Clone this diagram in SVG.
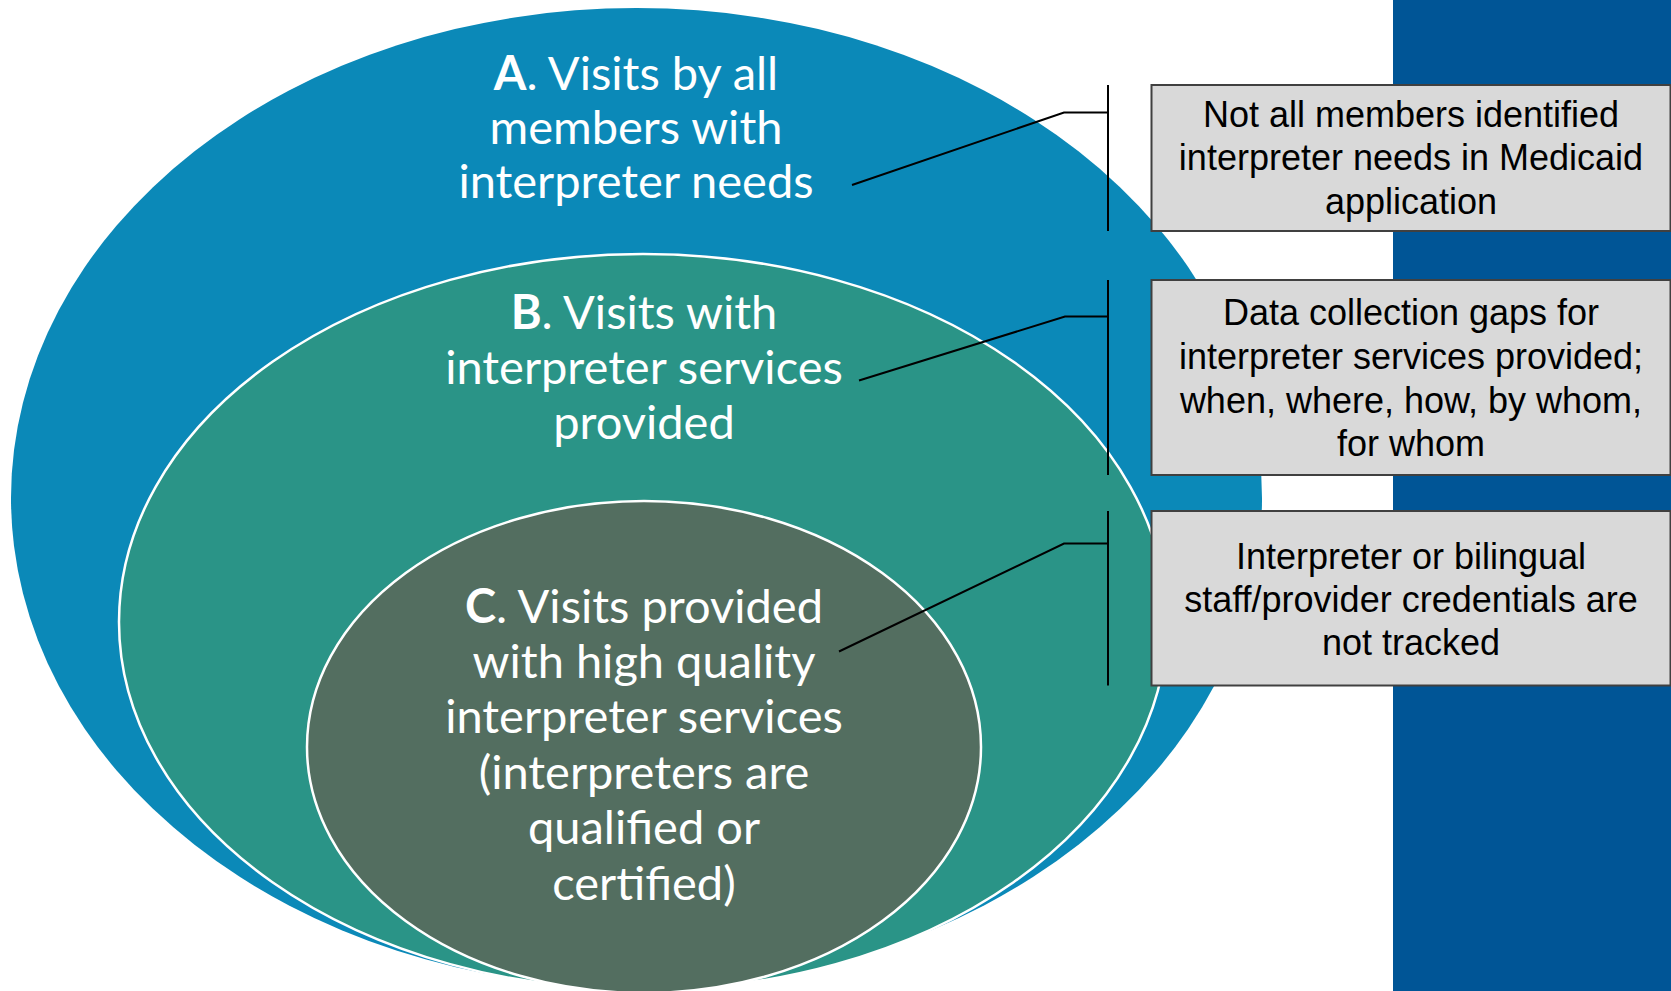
<svg xmlns="http://www.w3.org/2000/svg" width="1671" height="991" viewBox="0 0 1671 991">
<style>
.lbl{font-family:Lato,"Open Sans","Noto Sans",sans-serif;font-size:47px;fill:#ffffff;text-anchor:middle}
.box{fill:#D9D9D9;stroke:#404040;stroke-width:2}
.bt{font-family:"Liberation Sans",Arial,sans-serif;font-size:36px;fill:#000000;text-anchor:middle}
.con{fill:none;stroke:#000000;stroke-width:2}
</style>
<rect x="0" y="0" width="1671" height="991" fill="#ffffff"/>
<rect id="band" x="1393" y="0" width="278" height="991" fill="#005596"/>
<g id="nodeA">
<ellipse cx="636.5" cy="498" rx="625.5" ry="490" fill="#0B89B8"/>
<text class="lbl" x="636" y="90"><tspan font-weight="bold">A</tspan>. Visits by all</text>
<text class="lbl" x="636" y="144">members with</text>
<text class="lbl" x="636" y="198">interpreter needs</text>
</g>
<g id="nodeB">
<ellipse cx="643" cy="622" rx="524" ry="368" fill="#2A9487" stroke="#ffffff" stroke-width="2.5"/>
<text class="lbl" x="644" y="329"><tspan font-weight="bold">B</tspan>. Visits with</text>
<text class="lbl" x="644" y="384">interpreter services</text>
<text class="lbl" x="644" y="439">provided</text>
</g>
<g id="nodeC">
<ellipse cx="644" cy="747" rx="337" ry="246" fill="#536E60" stroke="#ffffff" stroke-width="2.5"/>
<text class="lbl" x="644" y="623"><tspan font-weight="bold">C</tspan>. Visits provided</text>
<text class="lbl" x="644" y="678">with high quality</text>
<text class="lbl" x="644" y="733">interpreter services</text>
<text class="lbl" x="644" y="789">(interpreters are</text>
<text class="lbl" x="644" y="844">qualified or</text>
<text class="lbl" x="644" y="900">certified)</text>
</g>
<g id="connectors">
<polyline class="con" points="852,185 1064,112.5 1108,112.5"/>
<line class="con" x1="1108" y1="85" x2="1108" y2="231"/>
<polyline class="con" points="859,380.5 1065,316.5 1108,316.5"/>
<line class="con" x1="1108" y1="280" x2="1108" y2="475"/>
<polyline class="con" points="839,651.5 1064,543.5 1108,543.5"/>
<line class="con" x1="1108" y1="511" x2="1108" y2="685.5"/>
</g>
<g id="box1">
<rect class="box" x="1151.5" y="85" width="519" height="146"/>
<text class="bt" x="1411" y="127">Not all members identified</text>
<text class="bt" x="1411" y="170">interpreter needs in Medicaid</text>
<text class="bt" x="1411" y="213.5">application</text>
</g>
<g id="box2">
<rect class="box" x="1151.5" y="280" width="519" height="195"/>
<text class="bt" x="1411" y="325">Data collection gaps for</text>
<text class="bt" x="1411" y="368.5">interpreter services provided;</text>
<text class="bt" x="1411" y="412.5">when, where, how, by whom,</text>
<text class="bt" x="1411" y="455.5">for whom</text>
</g>
<g id="box3">
<rect class="box" x="1151.5" y="511" width="519" height="174.5"/>
<text class="bt" x="1411" y="568.5">Interpreter or bilingual</text>
<text class="bt" x="1411" y="611.5">staff/provider credentials are</text>
<text class="bt" x="1411" y="654.5">not tracked</text>
</g>
</svg>
